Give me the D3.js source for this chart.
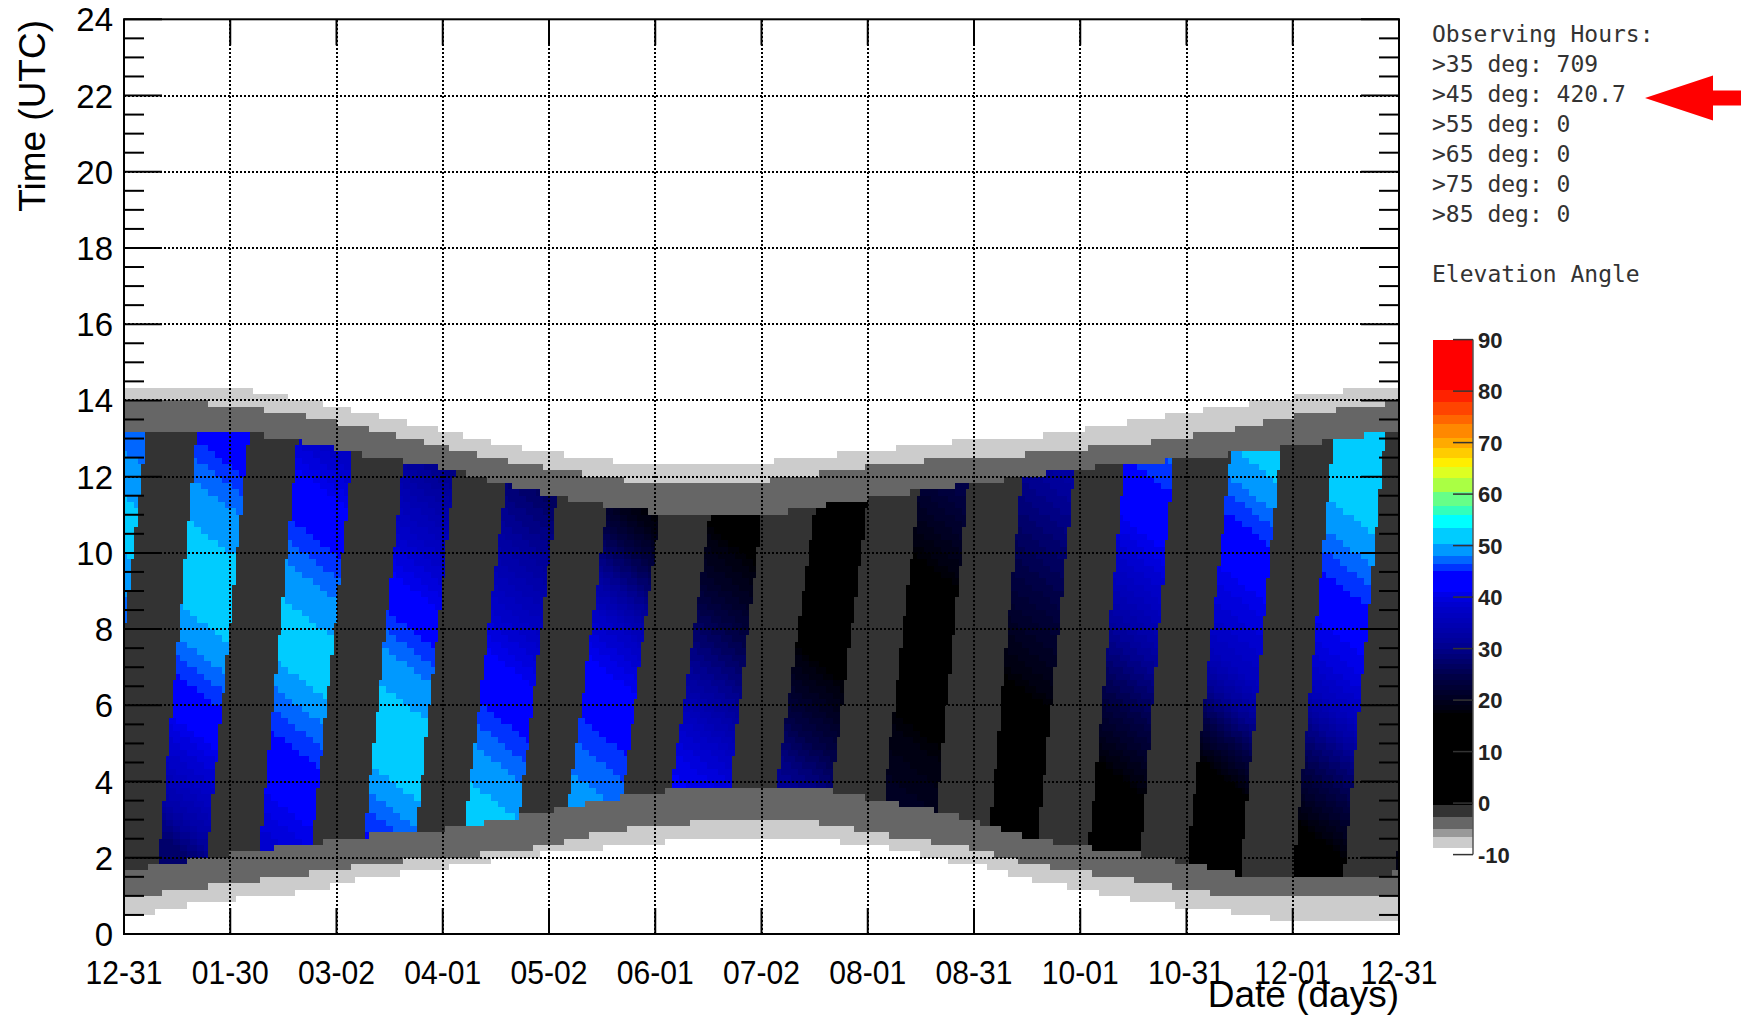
<!DOCTYPE html>
<html>
<head>
<meta charset="utf-8">
<script src="https://cdn.jsdelivr.net/npm/d3@7"></script>
<style>
  body { margin: 0; background: #fff; }
  svg { display: block; }
</style>
</head>
<body>
<svg width="1748" height="1018"></svg>
<script>
// axis labels
const dateLabels = ['12-31', '01-30', '03-02', '04-01', '05-02', '06-01', '07-02', '08-01', '08-31', '10-01', '10-31', '12-01', '12-31']
const hourTicks = [0, 2, 4, 6, 8, 10, 12, 14, 16, 18, 20, 22, 24]

// twilight band edges as [day, hour]
const lightTop = [[0, 14.4], [30, 14.4], [40, 14.2], [51, 14.02], [61, 13.85], [69, 13.67], [77, 13.5], [85, 13.35], [93, 13.19], [100, 13.02], [109, 12.84], [119, 12.67], [131, 12.52], [145, 12.36], [180, 12.36], [197, 12.51], [213, 12.67], [229, 12.83], [245, 13.0], [257, 13.0], [265, 13.12], [275, 13.25], [286, 13.4], [298, 13.59], [311, 13.78], [326, 13.97], [341, 14.15], [356, 14.34], [365, 14.38]]
const midTop = [[0, 14.02], [12, 14.02], [32, 13.85], [46, 13.67], [56, 13.52], [65, 13.35], [72, 13.2], [80, 13.04], [88, 12.87], [96, 12.68], [105, 12.52], [113, 12.36], [123, 12.2], [136, 12.0], [150, 11.84], [178, 11.84], [193, 12.0], [208, 12.2], [222, 12.36], [240, 12.5], [255, 12.55], [270, 12.7], [288, 12.84], [302, 13.03], [316, 13.21], [326, 13.42], [337, 13.62], [351, 13.8], [365, 13.97]]
const nightTop = [[0, 13.2], [32, 13.2], [43, 13.04], [55, 12.85], [63, 12.68], [72, 12.52], [85, 12.36], [97, 12.1], [108, 11.8], [118, 11.6], [131, 11.34], [142, 11.17], [158, 11.0], [185, 11.0], [195, 11.17], [208, 11.34], [220, 11.51], [234, 11.7], [246, 11.85], [258, 11.99], [272, 12.2], [290, 12.35], [307, 12.5], [323, 12.65], [338, 12.84], [352, 13.04], [365, 13.21]]
const nightBottom = [[0, 1.63], [10, 1.8], [24, 2.0], [36, 2.16], [50, 2.33], [63, 2.5], [78, 2.68], [92, 2.75], [105, 2.95], [118, 3.17], [135, 3.47], [149, 3.69], [165, 3.86], [195, 3.86], [207, 3.69], [218, 3.47], [228, 3.34], [238, 3.1], [246, 2.9], [252, 2.7], [261, 2.5], [271, 2.33], [284, 2.17], [297, 2.0], [306, 1.83], [314, 1.67], [322, 1.5], [350, 1.45], [365, 1.6]]
const midBottom = [[0, 0.98], [5, 0.98], [16, 1.17], [31, 1.33], [47, 1.5], [60, 1.68], [72, 1.85], [90, 2.0], [108, 2.12], [120, 2.3], [129, 2.47], [136, 2.68], [151, 2.81], [170, 3.0], [195, 3.0], [205, 2.81], [213, 2.68], [227, 2.47], [240, 2.29], [248, 2.12], [256, 1.91], [266, 1.73], [280, 1.54], [294, 1.35], [306, 1.16], [318, 0.98], [365, 0.93]]
const lightBottom = [[0, 0.45], [3, 0.45], [12, 0.65], [24, 0.85], [42, 1.0], [56, 1.17], [62, 1.33], [70, 1.49], [85, 1.65], [100, 1.85], [115, 2.04], [131, 2.2], [147, 2.33], [160, 2.47], [200, 2.47], [213, 2.33], [225, 2.16], [234, 1.94], [243, 1.85], [250, 1.68], [256, 1.5], [265, 1.33], [275, 1.16], [285, 0.97], [295, 0.8], [308, 0.69], [320, 0.55], [335, 0.3], [358, 0.3], [365, 0.41]]

// values shown in the grey bands
const lightBandValue = -7.5
const midBandValue = -4
const moonUpValue = -1.5

// dark stripes: edges (in days) at 02h and 13h
const stripeLeftAt2 = [-20, 10.0, 38.6, 68.1, 96.5, 125.2, 154, 184, 215.6, 247.2, 275.9, 304.6, 335.2, 364.4]
const stripeLeftAt13 = [-9, 20.6, 49.6, 80.7, 110.8, 140.9, 170.9, 200.5, 229.4, 257.9, 287.1, 317.3, 346.1, 375.4]
const stripeRightAt2 = [-6.7, 23.8, 53.4, 82.9, 111.8, 140.3, 171.2, 200.1, 231.4, 261.1, 290.9, 320, 349.6, 378]
const stripeRightAt13 = [6.3, 35.6, 65.9, 95.7, 125.8, 156.4, 185, 215.1, 242.9, 273, 301, 331.3, 360.9, 390]

// elevation along the middle of each stripe, at these hours
const elevationHours = [2, 3, 4, 5, 6, 7, 8, 9, 10, 11, 12, 13]
const stripeElevation = [
  [36, 38, 40, 41.5, 43, 44.5, 45.5, 47.5, 49.5, 52, 49.5, 47.5],
  [27, 33, 37, 40, 44, 47, 50, 52.5, 51, 49, 46.5, 43.5],
  [38.5, 40.5, 43, 45.5, 48, 51.5, 51, 48.5, 46, 43.5, 40, 37],
  [44.5, 47, 50.5, 52.5, 50.5, 48, 45, 41, 38, 35, 31.5, 28],
  [52.5, 51.5, 49, 46.5, 44, 41, 38, 35, 32, 29, 26, 23],
  [50, 49, 47.5, 45.5, 43, 40.5, 37, 31, 25, 19, 15, 12],
  [43, 42, 40.5, 37.5, 33, 29, 25, 21, 18, 15, 12, 10],
  [34, 32, 29.5, 25, 21, 17.5, 15, 13, 12, 11, 10, 10],
  [22, 21, 19.5, 18, 16, 15, 15, 16, 18.5, 21.5, 24.5, 27],
  [12, 12, 13, 14.5, 16.5, 19, 21.5, 24, 26.5, 29, 31.5, 34],
  [12, 14, 17, 21, 25, 29, 33, 36.5, 39.5, 42.5, 45, 47],
  [11, 13, 16.5, 23.5, 30.5, 36, 38.5, 40.5, 43.5, 46, 49.5, 52],
  [15, 20, 25, 30, 36, 39.5, 41.5, 45, 47.5, 50.5, 52.5, 50.5],
  [18, 22, 27, 32, 37, 41, 44, 46.5, 49, 51.5, 52.5, 51]
]
// colour contours drop about 4 minutes per day
const contourSlope = 0.066

// palette
const paletteEdges = [-8.8, -6.5, -5.1, -2.7, -0.3, 17.4, 41, 45.1, 46.5, 47.9, 50.3, 53.5, 55.9, 57.6, 60.4, 63.2, 65.3, 67, 69, 70.9, 73.7, 75.4, 77.9, 80.3]
const paletteColors = ['#ffffff', '#cccccc', '#999999', '#666666', '#333333', '#000000', null, '#0000ff', '#0033ff', '#0066ff', '#0099ff', '#00ccff', '#00ffff', '#33ffbb', '#66ff88', '#aaff44', '#ddff22', '#ffee00', '#ffcc00', '#ffaa00', '#ff8800', '#ff6600', '#ff4400', '#ff2200', '#ff0000']
const darkBlueStops = [17.4, 24.3, 31.2, 38.3, 41]
const darkBlueColors = ['#000008', '#000044', '#000099', '#0000cc', '#0000f0']
const colourTicks = [-10, 0, 10, 20, 30, 40, 50, 60, 70, 80, 90]

// observing hours text
const elevationCuts = [35, 45, 55, 65, 75, 85]
const observingHours = ['709', '420.7', '0', '0', '0', '0']

const svg = d3.select('svg')
const x = d3.scaleLinear().domain([0, 365]).range([124, 1399])
const y = d3.scaleLinear().domain([0, 24]).range([934, 19.3])

const edge = pts => d3.scaleLinear().domain(pts.map(p => p[0])).range(pts.map(p => p[1])).clamp(true)
const lt = edge(lightTop), mt = edge(midTop), nt = edge(nightTop)
const nb = edge(nightBottom), mb = edge(midBottom), lb = edge(lightBottom)

const stripes = stripeElevation.map((vals, i) => ({
  left: d3.scaleLinear().domain([2, 13]).range([stripeLeftAt2[i], stripeLeftAt13[i]]),
  right: d3.scaleLinear().domain([2, 13]).range([stripeRightAt2[i], stripeRightAt13[i]]),
  elev: d3.scaleLinear().domain(elevationHours).range(vals).clamp(true)
}))

const bandOf = d3.scaleThreshold().domain(paletteEdges).range(d3.range(paletteColors.length))
const darkBlue = d3.scaleLinear().domain(darkBlueStops).range(darkBlueColors).clamp(true)
const colour = v => paletteColors[bandOf(v)] || darkBlue(Math.floor(v) + 0.5)

const valueAt = (d, h) => {
  if (h >= lt(d) || h < lb(d)) return null
  if (h >= mt(d) || h < mb(d)) return lightBandValue
  if (h >= nt(d) || h < nb(d)) return midBandValue
  for (const s of stripes) {
    const l = s.left(h), r = s.right(h)
    if (d >= l && d < r) return s.elev(h + contourSlope * (d - (l + r) / 2))
  }
  return moonUpValue
}

// 1 day x 10 minute cells, merged into runs along each row
const slot = 1 / 6
const cells = []
d3.range(144).forEach(k => {
  const h = (k + 0.5) * slot
  let start = 0, prev = null
  for (let j = 0; j <= 365; j++) {
    const v = j < 365 ? valueAt(j + 0.5, h) : null
    const c = v === null ? null : colour(v)
    if (c !== prev) {
      if (prev) cells.push({ d0: start, d1: j, h0: k * slot, h1: (k + 1) * slot, fill: prev })
      start = j
      prev = c
    }
  }
})

svg.append('g').attr('shape-rendering', 'crispEdges')
  .selectAll('rect').data(cells).join('rect')
    .attr('x', c => x(c.d0))
    .attr('y', c => y(c.h1))
    .attr('width', c => x(c.d1) - x(c.d0))
    .attr('height', c => y(c.h0) - y(c.h1))
    .attr('fill', c => c.fill)

const dayTicks = dateLabels.map((_, i) => i * 365 / 12)

// dotted grid
const grid = svg.append('g')
  .attr('stroke', '#000').attr('stroke-width', 1.8).attr('stroke-dasharray', '1.8,2.2')
  .attr('shape-rendering', 'crispEdges')
grid.selectAll('.gx').data(dayTicks.slice(1, -1)).join('line')
  .attr('x1', d => Math.round(x(d))).attr('x2', d => Math.round(x(d))).attr('y1', y(0)).attr('y2', y(24))
grid.selectAll('.gy').data(hourTicks.slice(1, -1)).join('line')
  .attr('y1', d => Math.round(y(d))).attr('y2', d => Math.round(y(d))).attr('x1', x(0)).attr('x2', x(365))

// ticks on all four sides
const ticks = svg.append('g').attr('stroke', '#000').attr('stroke-width', 2)
const minorHours = d3.range(0, 24.01, 0.5).filter(h => h % 2 !== 0)
const tickLen = h => (h % 2 === 0 ? 38 : 20)
ticks.selectAll('.yl').data(hourTicks.concat(minorHours)).join('line')
  .attr('x1', x(0)).attr('x2', h => x(0) + tickLen(h)).attr('y1', h => y(h)).attr('y2', h => y(h))
ticks.selectAll('.yr').data(hourTicks.concat(minorHours)).join('line')
  .attr('x1', x(365)).attr('x2', h => x(365) - tickLen(h)).attr('y1', h => y(h)).attr('y2', h => y(h))
ticks.selectAll('.xb').data(dayTicks).join('line')
  .attr('x1', d => x(d)).attr('x2', d => x(d)).attr('y1', y(0)).attr('y2', y(0) - 26)
ticks.selectAll('.xt').data(dayTicks).join('line')
  .attr('x1', d => x(d)).attr('x2', d => x(d)).attr('y1', y(24)).attr('y2', y(24) + 26)

svg.append('rect')
  .attr('x', x(0)).attr('y', y(24)).attr('width', x(365) - x(0)).attr('height', y(0) - y(24))
  .attr('fill', 'none').attr('stroke', '#000').attr('stroke-width', 2)

// tick labels and titles
const sans = "'Liberation Sans', Arial, Helvetica, sans-serif"
svg.append('g').selectAll('text').data(hourTicks).join('text')
  .attr('x', 113).attr('y', h => y(h) + 12)
  .attr('text-anchor', 'end').attr('font-family', sans).attr('font-size', 33)
  .text(h => h)

svg.append('g').selectAll('text').data(dateLabels).join('text')
  .attr('x', (_, i) => x(dayTicks[i])).attr('y', 984)
  .attr('text-anchor', 'middle').attr('font-family', sans).attr('font-size', 33)
  .attr('textLength', 77).attr('lengthAdjust', 'spacingAndGlyphs')
  .text(d => d)

svg.append('text')
  .attr('transform', 'translate(45,20) rotate(-90)')
  .attr('text-anchor', 'end').attr('font-family', sans).attr('font-size', 37)
  .text('Time (UTC)')

svg.append('text')
  .attr('x', x(365)).attr('y', 1007)
  .attr('text-anchor', 'end').attr('font-family', sans).attr('font-size', 37)
  .text('Date (days)')

// observing hours block
const row = d3.scaleLinear().domain([0, 1]).range([42, 72])
const lines = ['Observing Hours:']
  .concat(elevationCuts.map((c, i) => '>' + c + ' deg: ' + observingHours[i]))
  .concat(['', 'Elevation Angle'])
svg.append('g').selectAll('text').data(lines).join('text')
  .attr('x', 1432).attr('y', (_, i) => row(i))
  .attr('font-family', "'DejaVu Sans Mono', monospace").attr('font-size', 23).attr('fill', '#333')
  .attr('xml:space', 'preserve')
  .text(d => d)

// red arrow pointing at the >45 deg line
const ay = row(2) - 4
svg.append('path')
  .attr('d', d3.line()([[1645, ay], [1713, ay - 22.5], [1713, ay - 7.5], [1741, ay - 7.5], [1741, ay + 7.5], [1713, ay + 7.5], [1713, ay + 22.5]]) + 'Z')
  .attr('fill', '#ff0000')

// colour bar
const cb = d3.scaleLinear().domain([-10, 90]).range([854.6, 339.6])
const barX0 = 1433, barX1 = 1473
const bands = []
paletteColors.forEach((c, i) => {
  if (i === 0) return
  const lo = paletteEdges[i - 1]
  const hi = i === paletteEdges.length ? 90 : paletteEdges[i]
  if (c) bands.push({ lo, hi, fill: c })
  else d3.range(Math.floor(lo), hi).forEach(v => bands.push({ lo: Math.max(v, lo), hi: Math.min(v + 1, hi), fill: darkBlue(v + 0.5) }))
})
svg.append('g').attr('shape-rendering', 'crispEdges')
  .selectAll('rect').data(bands).join('rect')
    .attr('x', barX0).attr('width', barX1 - barX0)
    .attr('y', b => cb(b.hi)).attr('height', b => cb(b.lo) - cb(b.hi))
    .attr('fill', b => b.fill)

svg.append('line')
  .attr('x1', barX1).attr('x2', barX1).attr('y1', cb(-10)).attr('y2', cb(90))
  .attr('stroke', '#555').attr('stroke-width', 1.5)
svg.append('g').attr('stroke', '#333').attr('stroke-width', 1.5)
  .selectAll('line').data(colourTicks).join('line')
    .attr('x1', barX1 - 20).attr('x2', barX1).attr('y1', v => cb(v)).attr('y2', v => cb(v))
svg.append('g').selectAll('text').data(colourTicks).join('text')
  .attr('x', 1478).attr('y', v => cb(v) + 8)
  .attr('font-family', sans).attr('font-size', 22).attr('font-weight', 'bold').attr('fill', '#222')
  .text(v => v)
</script>
</body>
</html>
